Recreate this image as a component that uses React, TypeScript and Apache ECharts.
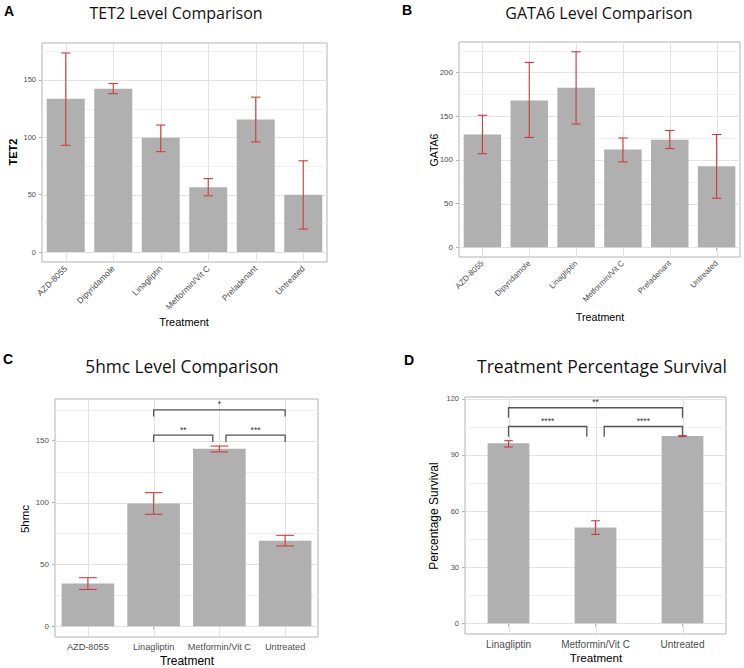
import React, { useEffect, useRef } from 'react';
import * as echarts from 'echarts';

// ---------- DATA ----------
const SIX_TREATMENTS = ['AZD-8055', 'Dipyridamole', 'Linagliptin', 'Metformin/Vit C', 'Preladenant', 'Untreated'];

const TET2_MEAN = [133.5, 142.4, 99.5, 56.4, 115.6, 50];
const TET2_LOW = [93, 138, 87.5, 49, 96, 20];
const TET2_HIGH = [173.5, 146.8, 110.7, 64, 135, 79.5];
const TET2_TICKS = [0, 50, 100, 150];

const GATA6_MEAN = [129, 168, 182.4, 111.8, 123, 92.7];
const GATA6_LOW = [107, 125.6, 141, 97.7, 113, 56];
const GATA6_HIGH = [151, 211.5, 223.7, 125, 133.6, 129];
const GATA6_TICKS = [0, 50, 100, 150, 200];

const HMC_TREATMENTS = ['AZD-8055', 'Linagliptin', 'Metformin/Vit C', 'Untreated'];
const HMC_MEAN = [34.6, 99.2, 143.5, 69.2];
const HMC_LOW = [29.7, 90.5, 141, 64.9];
const HMC_HIGH = [39.2, 108, 145.7, 73.5];
const HMC_TICKS = [0, 50, 100, 150];
const HMC_BRACKETS = [
  { from: 'Linagliptin', to: 'Metformin/Vit C', y: 154.6, tip: 149, label: '**' },
  { from: 'Metformin/Vit C', to: 'Untreated', y: 154.6, tip: 149, label: '***' },
  { from: 'Linagliptin', to: 'Untreated', y: 175, tip: 169.5, label: '*' },
];

const SURV_TREATMENTS = ['Linagliptin', 'Metformin/Vit C', 'Untreated'];
const SURV_MEAN = [96.2, 51.2, 100.1];
const SURV_LOW = [94.2, 47.5, 99.8];
const SURV_HIGH = [97.6, 54.8, 100.3];
const SURV_TICKS = [0, 30, 60, 90, 120];
const SURV_BRACKETS = [
  { from: 'Linagliptin', to: 'Metformin/Vit C', y: 105.2, tip: 99.7, label: '****' },
  { from: 'Metformin/Vit C', to: 'Untreated', y: 105.2, tip: 99.7, label: '****' },
  { from: 'Linagliptin', to: 'Untreated', y: 115.2, tip: 109.9, label: '**' },
];

// ---------- STYLE ----------
const FONT = "'Liberation Sans', Arial, sans-serif";
const TITLE_FONT = "'Open Sans', 'Noto Sans', sans-serif";
const BAR_COLOR = '#b0b0b0';
const ERR_COLOR = '#d13b3b';
const BORDER = '#b3b3b3';
const MAJOR = '#e3e3e3';
const MINOR = '#f0f0f0';
const TICK_TEXT = '#4d4d4d';

type Bracket = { from: string; to: string; y: number; tip: number; label: string };

type Panel = {
  letter: string; letterX: number; letterY: number;
  title: string; titleX: number; titleY: number; titleSize: number;
  yName: string; yNameX: number; yNameY: number; yNameSize: number; yNameBold?: boolean;
  xNameX: number; xNameY: number; xNameSize: number;
  cats: string[]; mean: number[]; low: number[]; high: number[]; ticks: number[];
  brackets: Bracket[];
  grid: { left: number; top: number; width: number; height: number };
  rotate: number; barWidth: string; cap: number; xLabelSize: number; yLabelSize: number;
};

const PANELS: Panel[] = [
  {
    letter: 'A', letterX: 9, letterY: 11,
    title: 'TET2 Level Comparison', titleX: 176, titleY: 13, titleSize: 16,
    yName: 'TET2', yNameX: 13, yNameY: 152, yNameSize: 11, yNameBold: true,
    xNameX: 184, xNameY: 322, xNameSize: 11,
    cats: SIX_TREATMENTS, mean: TET2_MEAN, low: TET2_LOW, high: TET2_HIGH, ticks: TET2_TICKS,
    brackets: [],
    grid: { left: 42, top: 43, width: 285, height: 219 },
    rotate: 45, barWidth: '80%', cap: 0.2, xLabelSize: 8.5, yLabelSize: 7.5,
  },
  {
    letter: 'B', letterX: 407, letterY: 10,
    title: 'GATA6 Level Comparison', titleX: 599, titleY: 13, titleSize: 16,
    yName: 'GATA6', yNameX: 434, yNameY: 150, yNameSize: 10.5,
    xNameX: 600, xNameY: 317, xNameSize: 10.7,
    cats: SIX_TREATMENTS, mean: GATA6_MEAN, low: GATA6_LOW, high: GATA6_HIGH, ticks: GATA6_TICKS,
    brackets: [],
    grid: { left: 459, top: 42, width: 281, height: 215 },
    rotate: 45, barWidth: '80%', cap: 0.2, xLabelSize: 8, yLabelSize: 8,
  },
  {
    letter: 'C', letterX: 8, letterY: 359,
    title: '5hmc Level Comparison', titleX: 182, titleY: 366, titleSize: 17.3,
    yName: '5hmc', yNameX: 25, yNameY: 519, yNameSize: 11.5,
    xNameX: 187, xNameY: 661, xNameSize: 12,
    cats: HMC_TREATMENTS, mean: HMC_MEAN, low: HMC_LOW, high: HMC_HIGH, ticks: HMC_TICKS,
    brackets: HMC_BRACKETS,
    grid: { left: 55, top: 399, width: 263, height: 238 },
    rotate: 0, barWidth: '80%', cap: 0.27, xLabelSize: 9.2, yLabelSize: 8,
  },
  {
    letter: 'D', letterX: 409, letterY: 360,
    title: 'Treatment Percentage Survival', titleX: 602, titleY: 366, titleSize: 17.5,
    yName: 'Percentage Survival', yNameX: 434, yNameY: 516, yNameSize: 12,
    xNameX: 596, xNameY: 657, xNameSize: 11.6,
    cats: SURV_TREATMENTS, mean: SURV_MEAN, low: SURV_LOW, high: SURV_HIGH, ticks: SURV_TICKS,
    brackets: SURV_BRACKETS,
    grid: { left: 465, top: 397, width: 261, height: 237 },
    rotate: 0, barWidth: '48%', cap: 0.1, xLabelSize: 10, yLabelSize: 7.5,
  },
];

function buildOption() {
  const grids: any[] = [];
  const xAxes: any[] = [];
  const yAxes: any[] = [];
  const series: any[] = [];
  const graphics: any[] = [];

  PANELS.forEach((p, k) => {
    const top = Math.max(...p.high, ...p.brackets.map((b) => b.y));
    const yMin = -0.05 * top;
    const yMax = 1.05 * top;
    const step = p.ticks[1] - p.ticks[0];
    const minors: number[] = [];
    p.ticks.forEach((t) => {
      const m = t + step / 2;
      if (m <= yMax) minors.push(m);
    });

    grids.push({ ...p.grid, show: true, borderColor: BORDER, borderWidth: 1, backgroundColor: 'transparent', outerBoundsMode: 'none' });
    xAxes.push({
      type: 'category', gridIndex: k, data: p.cats,
      axisLine: { show: false },
      axisTick: { show: true, alignWithLabel: true, length: 3, lineStyle: { color: BORDER } },
      axisLabel: { interval: 0, rotate: p.rotate, fontSize: p.xLabelSize, color: TICK_TEXT, fontFamily: FONT, margin: 5 },
      splitLine: { show: false },
    });
    yAxes.push({
      type: 'value', gridIndex: k, min: yMin, max: yMax,
      axisLine: { show: false },
      axisTick: { show: true, length: 3, lineStyle: { color: BORDER }, customValues: p.ticks },
      axisLabel: { fontSize: p.yLabelSize, color: TICK_TEXT, fontFamily: FONT, margin: 6, customValues: p.ticks },
      splitLine: { show: false },
      minorTick: { show: false },
    });

    // grid lines
    series.push({
      type: 'custom', xAxisIndex: k, yAxisIndex: k, z: 1, silent: true,
      data: [[0, 0]],
      renderItem: (params: any, api: any) => {
        const cs = params.coordSys;
        const x0 = cs.x, x1 = cs.x + cs.width, y0 = cs.y, y1 = cs.y + cs.height;
        const children: any[] = [];
        const hline = (v: number, color: string) => {
          const y = Math.round(api.coord([0, v])[1]) + 0.5;
          children.push({ type: 'line', shape: { x1: x0, y1: y, x2: x1, y2: y }, style: { stroke: color, lineWidth: 1 } });
        };
        minors.forEach((v) => hline(v, MINOR));
        p.ticks.forEach((v) => hline(v, MAJOR));
        p.cats.forEach((_, i) => {
          const x = Math.round(api.coord([i, 0])[0]) + 0.5;
          children.push({ type: 'line', shape: { x1: x, y1: y0, x2: x, y2: y1 }, style: { stroke: MAJOR, lineWidth: 1 } });
        });
        return { type: 'group', children };
      },
    });

    // bars
    series.push({
      type: 'bar', xAxisIndex: k, yAxisIndex: k, z: 2, silent: true,
      data: p.mean, barWidth: p.barWidth,
      itemStyle: { color: BAR_COLOR },
    });

    // error bars
    series.push({
      type: 'custom', xAxisIndex: k, yAxisIndex: k, z: 3, silent: true,
      data: p.cats.map((_, i) => [i, p.low[i], p.high[i]]),
      renderItem: (params: any, api: any) => {
        const i = api.value(0);
        const lo = api.coord([i, api.value(1)]);
        const hi = api.coord([i, api.value(2)]);
        const half = (api.size([1, 0])[0] * p.cap) / 2;
        const x = lo[0];
        const st = { stroke: ERR_COLOR, lineWidth: 1.1 };
        return {
          type: 'group',
          children: [
            { type: 'line', shape: { x1: x, y1: lo[1], x2: x, y2: hi[1] }, style: st },
            { type: 'line', shape: { x1: x - half, y1: lo[1], x2: x + half, y2: lo[1] }, style: st },
            { type: 'line', shape: { x1: x - half, y1: hi[1], x2: x + half, y2: hi[1] }, style: st },
          ],
        };
      },
    });

    // significance brackets
    if (p.brackets.length) {
      const INSET = 0.1;
      const bdata = p.brackets.map((b) => {
        const insetFrom = p.brackets.some((o) => o !== b && o.y === b.y && o.to === b.from) ? 1 : 0;
        const insetTo = p.brackets.some((o) => o !== b && o.y === b.y && o.from === b.to) ? 1 : 0;
        return [p.cats.indexOf(b.from), p.cats.indexOf(b.to), b.y, b.tip, insetFrom, insetTo];
      });
      series.push({
        type: 'custom', xAxisIndex: k, yAxisIndex: k, z: 4, silent: true,
        data: bdata,
        renderItem: (params: any, api: any) => {
          const band = api.size([1, 0])[0];
          const a = api.coord([api.value(0), api.value(2)]);
          const b = api.coord([api.value(1), api.value(2)]);
          const tipY = api.coord([api.value(0), api.value(3)])[1];
          const xa = a[0] + (api.value(4) ? INSET * band : 0);
          const xb = b[0] - (api.value(5) ? INSET * band : 0);
          const y = a[1];
          const st = { stroke: '#555555', lineWidth: 1.3, fill: null };
          return {
            type: 'group',
            children: [
              { type: 'polyline', shape: { points: [[xa, tipY], [xa, y], [xb, y], [xb, tipY]] }, style: st },
              {
                type: 'text', x: (xa + xb) / 2, y: y - 1,
                style: { text: p.brackets[params.dataIndex].label, fill: '#333333', fontSize: 8.5, fontFamily: FONT, align: 'center', verticalAlign: 'bottom' },
              },
            ],
          };
        },
      });
    }

    // texts
    graphics.push(
      { type: 'text', x: p.letterX, y: p.letterY, style: { text: p.letter, fill: '#000', fontSize: 14, fontWeight: 'bold', fontFamily: FONT, align: 'center', verticalAlign: 'middle' } },
      { type: 'text', x: p.titleX, y: p.titleY, style: { text: p.title, fill: '#111', fontSize: p.titleSize, fontFamily: TITLE_FONT, align: 'center', verticalAlign: 'middle' } },
      { type: 'text', x: p.yNameX, y: p.yNameY, rotation: Math.PI / 2, style: { text: p.yName, fill: '#000', fontSize: p.yNameSize, fontWeight: p.yNameBold ? 'bold' : 'normal', fontFamily: FONT, align: 'center', verticalAlign: 'middle' } },
      { type: 'text', x: p.xNameX, y: p.xNameY, style: { text: 'Treatment', fill: '#000', fontSize: p.xNameSize, fontFamily: FONT, align: 'center', verticalAlign: 'middle' } },
    );
  });

  return {
    animation: false,
    backgroundColor: '#ffffff',
    grid: grids,
    xAxis: xAxes,
    yAxis: yAxes,
    series,
    graphic: graphics,
  };
}

export default function App() {
  const ref = useRef<HTMLDivElement>(null);
  useEffect(() => {
    const chart = echarts.init(ref.current!, null, { renderer: 'svg' });
    chart.setOption(buildOption() as any);
    return () => chart.dispose();
  }, []);
  return <div ref={ref} style={{ position: 'absolute', left: 0, top: 0, width: 744, height: 668 }} />;
}
